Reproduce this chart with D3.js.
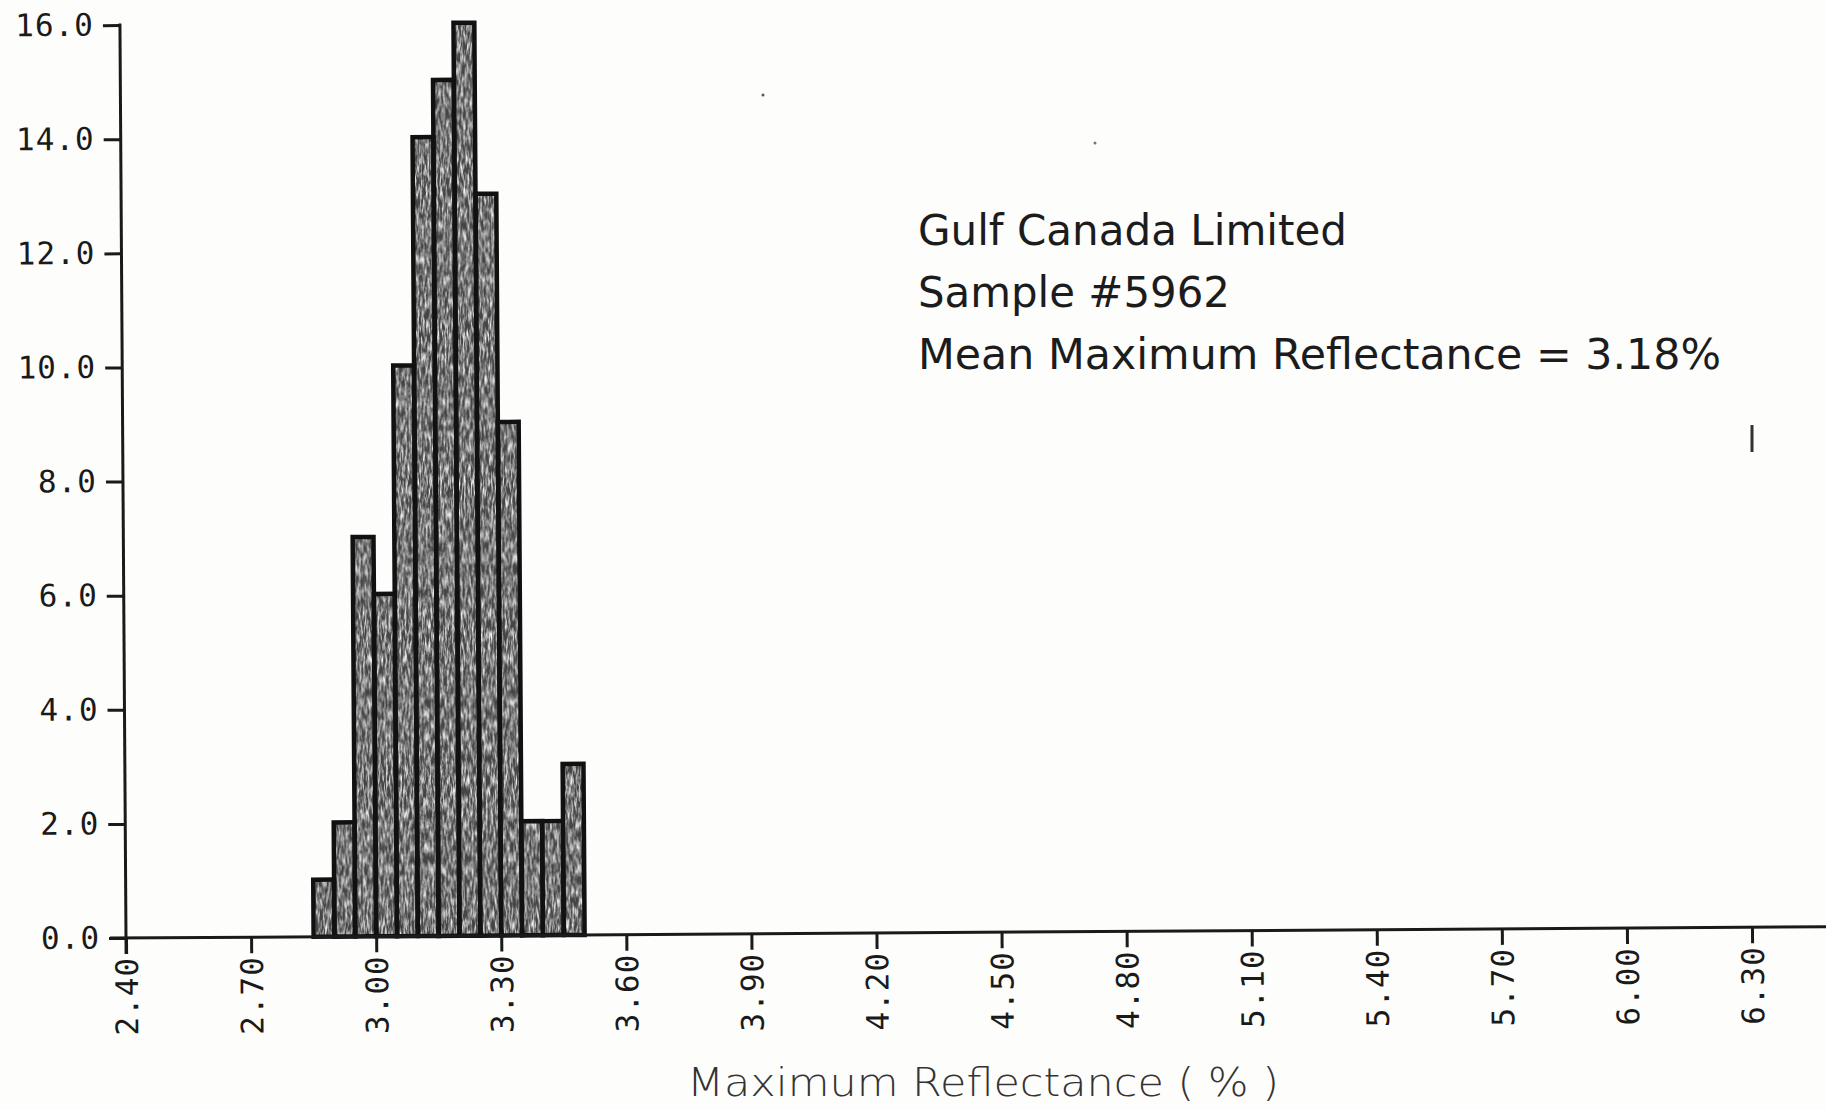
<!DOCTYPE html>
<meta charset="utf-8">
<style>
  body { margin: 0; background: #fdfdfc; }
  svg { display: block; }
</style>
<body>
<script src="https://d3js.org/d3.v7.min.js"></script>
<script>
// histogram bins (left edge, %), bin width and counts
const binStarts = [2.85, 2.90, 2.95, 3.00, 3.05, 3.10, 3.15, 3.20, 3.25, 3.30, 3.35, 3.40, 3.45];
const counts    = [1, 2, 7, 6, 10, 14, 15, 16, 13, 9, 2, 2, 3];
const binWidth  = 0.05;

const xTicks = [2.40, 2.70, 3.00, 3.30, 3.60, 3.90, 4.20, 4.50, 4.80, 5.10, 5.40, 5.70, 6.00, 6.30];
const yTicks = [0, 2, 4, 6, 8, 10, 12, 14, 16];

const titleLines = ["Gulf Canada Limited", "Sample #5962", "Mean Maximum Reflectance = 3.18%"];
const xLabel = "Maximum Reflectance ( % )";

let width = 1826, height = 1110;

let svg = d3.select("body").append("svg")
    .attr("width", width)
    .attr("height", height);

// grainy photocopy texture for the bars
let defs = svg.append("defs");
let f = defs.append("filter").attr("id", "grain")
    .attr("filterUnits", "userSpaceOnUse")
    .attr("x", 0).attr("y", 0).attr("width", width).attr("height", height);
f.append("feTurbulence")
    .attr("type", "fractalNoise")
    .attr("baseFrequency", "0.55 0.09")
    .attr("numOctaves", 3)
    .attr("seed", 11)
    .attr("result", "t");
f.append("feColorMatrix")
    .attr("in", "t").attr("type", "matrix")
    .attr("values", "0 0 0 0 0.93  0 0 0 0 0.93  0 0 0 0 0.93  2.2 0 0 0 -0.8")
    .attr("result", "a");
f.append("feComposite").attr("in", "a").attr("in2", "SourceGraphic").attr("operator", "in");

let x = d3.scaleLinear().domain([2.40, 6.30]).range([126, 1752]);
let y = d3.scaleLinear().domain([0, 16]).range([938, 25]);

// the scanned sheet sits a little askew
let g = svg.append("g")
    .attr("transform", "rotate(-0.38," + x(2.40) + "," + y(0) + ")");

let data = binStarts.map((b, i) => ({ b: b, n: counts[i] }));

let bars = g.append("g");
bars.selectAll("rect.fill")
    .data(data)
    .join("rect")
    .attr("class", "fill")
    .attr("x", d => x(d.b))
    .attr("y", d => y(d.n))
    .attr("width", d => x(d.b + binWidth) - x(d.b))
    .attr("height", d => y(0) - y(d.n))
    .attr("fill", "#444");
bars.selectAll("rect.grain")
    .data(data)
    .join("rect")
    .attr("class", "grain")
    .attr("x", d => x(d.b))
    .attr("y", d => y(d.n))
    .attr("width", d => x(d.b + binWidth) - x(d.b))
    .attr("height", d => y(0) - y(d.n))
    .attr("fill", "#000")
    .attr("filter", "url(#grain)");
bars.selectAll("rect.edge")
    .data(data)
    .join("rect")
    .attr("class", "edge")
    .attr("x", d => x(d.b))
    .attr("y", d => y(d.n))
    .attr("width", d => x(d.b + binWidth) - x(d.b))
    .attr("height", d => y(0) - y(d.n))
    .attr("fill", "none")
    .attr("stroke", "#111")
    .attr("stroke-width", 4.5);

// x axis
let xAxis = g.append("g")
    .attr("transform", "translate(0," + y(0) + ")")
    .call(d3.axisBottom(x).tickValues(xTicks).tickSize(16).tickFormat(d3.format(".2f")));
xAxis.select(".domain").remove();
xAxis.selectAll(".tick line").attr("stroke", "#1a1a1a").attr("stroke-width", 3);
xAxis.selectAll(".tick text")
    .attr("transform", "rotate(-90)")
    .attr("x", -19).attr("y", 0).attr("dy", "0.36em")
    .style("text-anchor", "end")
    .style("font-family", "'DejaVu Sans Mono', monospace")
    .style("font-size", "31px")
    .style("letter-spacing", "1px")
    .attr("fill", "#1a1a1a");
g.append("line")
    .attr("x1", x(2.40) - 16).attr("x2", width + 20)
    .attr("y1", y(0)).attr("y2", y(0))
    .attr("stroke", "#1a1a1a").attr("stroke-width", 3);

// y axis
let yAxis = g.append("g")
    .attr("transform", "translate(" + x(2.40) + ",0)")
    .call(d3.axisLeft(y).tickValues(yTicks).tickSize(17).tickPadding(9).tickFormat(d3.format(".1f")));
yAxis.select(".domain").remove();
yAxis.selectAll(".tick line").attr("stroke", "#1a1a1a").attr("stroke-width", 3);
yAxis.selectAll(".tick text")
    .style("font-family", "'DejaVu Sans Mono', monospace")
    .style("font-size", "31px")
    .style("letter-spacing", "1px")
    .attr("fill", "#1a1a1a");
g.append("line")
    .attr("x1", x(2.40)).attr("x2", x(2.40))
    .attr("y1", y(16) - 1.5).attr("y2", y(0) + 16)
    .attr("stroke", "#1a1a1a").attr("stroke-width", 3);

// annotation block
let note = svg.append("g").attr("transform", "translate(918,245)");
note.selectAll("text")
    .data(titleLines)
    .join("text")
    .attr("x", 0)
    .attr("y", (d, i) => i * 62)
    .attr("textLength", (d, i) => [429, 312, 803][i])
    .attr("lengthAdjust", "spacingAndGlyphs")
    .style("font-family", "'DejaVu Sans', sans-serif")
    .style("font-size", "43px")
    .attr("fill", "#1c1c1c")
    .text(d => d);

// axis title (faint in the scan)
svg.append("text")
    .attr("x", 687)
    .attr("y", 1096)
    .attr("textLength", 592)
    .attr("lengthAdjust", "spacingAndGlyphs")
    .style("font-family", "'DejaVu Sans', sans-serif")
    .style("font-size", "39px")
    .style("font-weight", 300)
    .attr("fill", "#333")
    .text(xLabel);

// stray marks on the sheet
svg.append("line")
    .attr("x1", 1752).attr("x2", 1752).attr("y1", 425).attr("y2", 452)
    .attr("stroke", "#333").attr("stroke-width", 3);
svg.append("circle").attr("cx", 763).attr("cy", 95).attr("r", 1.5).attr("fill", "#555");
svg.append("circle").attr("cx", 1095).attr("cy", 143).attr("r", 1.5).attr("fill", "#777");
</script>
</body>
